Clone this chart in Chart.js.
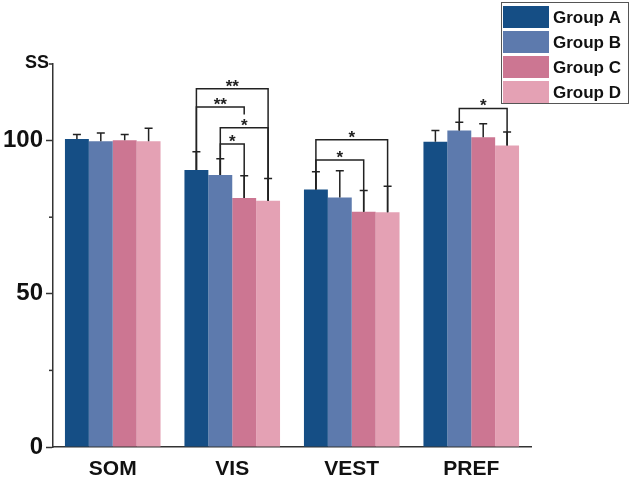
<!DOCTYPE html>
<html>
<head>
<meta charset="utf-8">
<script src="https://cdn.jsdelivr.net/npm/chart.js@4/dist/chart.umd.min.js"></script>
<style>
  html, body { margin: 0; padding: 0; background: #fff; }
  #wrap { width: 630px; height: 478px; }
</style>
</head>
<body>
<div id="wrap"><canvas id="chart" width="630" height="478"></canvas></div>
<script>
// data
const categories = ['SOM', 'VIS', 'VEST', 'PREF'];
const groupNames = ['Group A', 'Group B', 'Group C', 'Group D'];
const groupA = [100.5, 90.4, 84.0, 99.6];
const groupB = [99.8, 88.8, 81.4, 103.3];
const groupC = [100.1, 81.3, 76.8, 101.1];
const groupD = [99.8, 80.4, 76.6, 98.4];
// upper error (SD)
const errA = [1.5, 6.0, 5.8, 3.7];
const errB = [2.7, 5.3, 8.8, 2.7];
const errC = [1.9, 7.2, 6.9, 4.4];
const errD = [4.2, 7.2, 8.5, 4.4];
const colors = ['#154e85', '#5d7aad', '#cc7692', '#e4a1b4'];

// significance brackets
const bracketCat = ['VIS', 'VIS', 'VIS', 'VIS', 'VEST', 'VEST', 'PREF'];
const bracketFrom = [0, 0, 1, 1, 0, 0, 1];
const bracketTo = [3, 2, 3, 2, 3, 2, 3];
const bracketLevel = [116.9, 111.0, 104.2, 98.9, 100.3, 93.7, 110.5];
const bracketLabel = ['**', '**', '*', '*', '*', '*', '*'];
const bracketEnd = [null, 108.5, null, null, null, null, null]; // null = down to bar

const yTicks = [0, 50, 100];

const values = [groupA, groupB, groupC, groupD];
const errors = [errA, errB, errC, errD];
const FONT = '"Liberation Sans", Arial, sans-serif';
const INK = '#222';

const overlay = {
  id: 'overlay',
  afterDatasetsDraw(chart) {
    const ctx = chart.ctx;
    const y = chart.scales.y;
    ctx.save();
    ctx.strokeStyle = INK;
    ctx.lineWidth = 1.5;
    // error bars
    values.forEach((vals, d) => {
      const meta = chart.getDatasetMeta(d);
      meta.data.forEach((bar, i) => {
        const top = y.getPixelForValue(vals[i] + errors[d][i]);
        ctx.beginPath();
        ctx.moveTo(bar.x, bar.y);
        ctx.lineTo(bar.x, top);
        ctx.moveTo(bar.x - 4, top);
        ctx.lineTo(bar.x + 4, top);
        ctx.stroke();
      });
    });
    // brackets
    ctx.fillStyle = INK;
    ctx.font = 'bold 17px ' + FONT;
    ctx.textAlign = 'center';
    ctx.textBaseline = 'alphabetic';
    bracketCat.forEach((cat, k) => {
      const i = categories.indexOf(cat);
      const a = chart.getDatasetMeta(bracketFrom[k]).data[i];
      const b = chart.getDatasetMeta(bracketTo[k]).data[i];
      const ly = y.getPixelForValue(bracketLevel[k]);
      const endB = bracketEnd[k] === null ? b.y : y.getPixelForValue(bracketEnd[k]);
      ctx.beginPath();
      ctx.moveTo(a.x, a.y);
      ctx.lineTo(a.x, ly);
      ctx.lineTo(b.x, ly);
      ctx.lineTo(b.x, endB);
      ctx.stroke();
      ctx.fillText(bracketLabel[k], (a.x + b.x) / 2, ly + 3);
    });
    ctx.restore();
  },
  afterDraw(chart) {
    const ctx = chart.ctx;
    const y = chart.scales.y;
    const left = chart.chartArea.left;
    ctx.save();
    // minor ticks
    ctx.strokeStyle = '#333';
    ctx.lineWidth = 1.5;
    [25, 75, 125].forEach(v => {
      const py = y.getPixelForValue(v);
      ctx.beginPath();
      ctx.moveTo(left - 4, py);
      ctx.lineTo(left, py);
      ctx.stroke();
    });
    // axis title
    ctx.fillStyle = '#111';
    ctx.font = 'bold 18px ' + FONT;
    ctx.textAlign = 'right';
    ctx.textBaseline = 'middle';
    ctx.fillText('SS', left - 4, 63);
    // legend
    const lx = 501, ly = 2, lw = 128, lh = 102;
    ctx.fillStyle = '#fff';
    ctx.fillRect(lx, ly, lw, lh);
    ctx.strokeStyle = '#555';
    ctx.lineWidth = 1;
    ctx.strokeRect(lx + 0.5, ly + 0.5, lw - 1, lh - 1);
    ctx.font = 'bold 17px ' + FONT;
    ctx.textAlign = 'left';
    groupNames.forEach((name, d) => {
      const ry = ly + 4 + d * 25;
      ctx.fillStyle = colors[d];
      ctx.fillRect(lx + 2, ry, 46, 22);
      ctx.fillStyle = '#111';
      ctx.fillText(name, lx + 52, ry + 12);
    });
    ctx.restore();
  }
};

new Chart(document.getElementById('chart'), {
  type: 'bar',
  data: {
    labels: categories,
    datasets: groupNames.map((name, d) => ({
      label: name,
      data: values[d],
      backgroundColor: colors[d],
      borderWidth: 0,
      barPercentage: 1.0,
      categoryPercentage: 0.8
    }))
  },
  options: {
    responsive: false,
    animation: false,
    layout: { padding: { left: 0, top: 64, right: 99, bottom: 0 } },
    plugins: { legend: { display: false }, tooltip: { enabled: false } },
    scales: {
      x: {
        grid: { display: false },
        border: { display: true, color: '#333', width: 1.5 },
        ticks: { color: '#111', font: { family: FONT, size: 21, weight: 'bold' }, padding: 2 },
        afterFit: s => { s.height = 31; }
      },
      y: {
        min: 0,
        max: 125,
        grid: { display: true, drawOnChartArea: false, drawTicks: true, tickLength: 7,
                tickColor: c => yTicks.includes(c.tick && c.tick.value) ? '#333' : 'rgba(0,0,0,0)',
                tickWidth: 1.5 },
        border: { display: true, color: '#333', width: 1.5 },
        ticks: {
          stepSize: 25,
          padding: 3,
          color: '#111',
          font: { family: FONT, size: 24, weight: 'bold' },
          callback: v => yTicks.includes(v) ? v : ''
        },
        afterFit: s => { s.width = 53; }
      }
    }
  },
  plugins: [overlay]
});
</script>
</body>
</html>
